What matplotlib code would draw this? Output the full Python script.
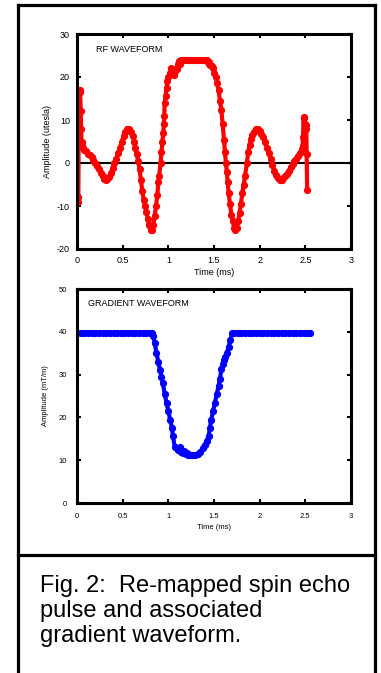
import matplotlib
matplotlib.use('Agg')
import matplotlib.pyplot as plt
from matplotlib.lines import Line2D

plt.rcParams['font.family'] = ['Liberation Sans', 'DejaVu Sans']
plt.rcParams['axes.unicode_minus'] = False

# RF waveform (ms, utesla)
rf_t = [0.010, 0.015, 0.020, 0.025, 0.030, 0.035, 0.040, 0.045, 0.050, 0.055,
        0.060, 0.070, 0.080, 0.100, 0.120, 0.140, 0.160, 0.180, 0.200, 0.220,
        0.240, 0.260, 0.280, 0.300, 0.315, 0.330, 0.350, 0.370, 0.390, 0.410,
        0.430, 0.450, 0.470, 0.490, 0.510, 0.530, 0.550, 0.570, 0.590, 0.610,
        0.625, 0.640, 0.655, 0.670, 0.685, 0.700, 0.715, 0.730, 0.745, 0.760,
        0.775, 0.790, 0.805, 0.820, 0.835, 0.850, 0.865, 0.880, 0.890, 0.900,
        0.915, 0.925, 0.935, 0.945, 0.950, 0.955, 0.960, 0.970, 0.980, 0.990,
        1.000, 1.015, 1.030, 1.045, 1.060, 1.075, 1.090, 1.100, 1.110, 1.120,
        1.130, 1.140, 1.160, 1.190, 1.220, 1.250, 1.280, 1.310, 1.340, 1.370,
        1.400, 1.420, 1.430, 1.440, 1.450, 1.460, 1.475, 1.490, 1.505, 1.520,
        1.535, 1.550, 1.565, 1.580, 1.595, 1.610, 1.620, 1.630, 1.640, 1.650,
        1.660, 1.675, 1.690, 1.705, 1.720, 1.735, 1.750, 1.765, 1.780, 1.795,
        1.810, 1.825, 1.840, 1.860, 1.875, 1.890, 1.905, 1.920, 1.940, 1.960,
        1.980, 2.000, 2.020, 2.040, 2.060, 2.080, 2.100, 2.120, 2.140, 2.160,
        2.180, 2.200, 2.220, 2.240, 2.260, 2.280, 2.300, 2.320, 2.340, 2.360,
        2.380, 2.400, 2.420, 2.440, 2.460, 2.470, 2.475, 2.480, 2.490, 2.500,
        2.505, 2.510, 2.515, 2.520]
rf_v = [-9.0, -8.0, 17.0, 17.0, 17.0, 16.5, 12.0, 8.0, 5.0, 4.5,
        4.0, 3.5, 3.0, 2.7, 2.2, 1.8, 1.3, 0.8, 0.1, -0.6,
        -1.4, -2.3, -3.0, -3.7, -3.9, -3.7, -3.2, -2.3, -1.2, 0.0,
        1.0, 2.3, 3.6, 5.0, 6.3, 7.3, 7.9, 7.8, 7.3, 6.2,
        5.0, 3.5, 2.0, 0.5, -1.5, -4.0, -6.5, -8.5, -10.0, -11.5,
        -13.0, -14.5, -15.5, -15.5, -14.5, -12.4, -10.0, -7.5, -4.5, -3.0,
        0.0, 2.5, 5.0, 7.0, 9.0, 11.0, 14.0, 15.5, 17.5, 19.0,
        20.0, 21.0, 22.0, 21.5, 20.5, 21.5, 22.0, 21.8, 23.0, 23.8,
        23.0, 24.0, 24.0, 24.0, 24.0, 24.0, 24.0, 24.0, 24.0, 24.0,
        24.0, 24.0, 23.5, 23.0, 23.5, 22.8, 22.5, 22.0, 21.0, 20.0,
        18.5, 17.0, 14.5, 12.4, 9.0, 5.4, 2.5, 0.0, -2.0, -4.5,
        -7.0, -9.5, -12.0, -13.5, -15.0, -15.5, -15.0, -13.5, -11.6, -9.5,
        -7.0, -5.0, -3.0, 0.0, 2.5, 4.3, 5.5, 6.5, 7.3, 7.9,
        7.8, 7.4, 6.8, 6.0, 4.8, 3.5, 2.3, 1.0, -0.5, -1.8,
        -2.8, -3.5, -3.9, -3.9, -3.5, -3.0, -2.5, -1.8, -1.0, -0.2,
        0.5, 1.0, 1.6, 2.3, 3.2, 4.0, 6.0, 10.8, 10.5, 9.0,
        8.0, 8.9, 2.0, -6.2]

# gradient waveform (ms, mT/m)
gr_t = [0.00, 0.04, 0.08, 0.12, 0.16, 0.20, 0.24, 0.28, 0.32, 0.36,
        0.40, 0.44, 0.48, 0.52, 0.56, 0.60, 0.64, 0.68, 0.72, 0.76,
        0.80, 0.82, 0.835, 0.85, 0.87, 0.89, 0.91, 0.925, 0.94, 0.96,
        0.98, 1.00, 1.02, 1.04, 1.05, 1.07, 1.09, 1.11, 1.125, 1.14,
        1.16, 1.175, 1.19, 1.205, 1.22, 1.24, 1.26, 1.29, 1.32, 1.35,
        1.38, 1.40, 1.42, 1.44, 1.455, 1.47, 1.49, 1.51, 1.53, 1.55,
        1.565, 1.58, 1.595, 1.61, 1.625, 1.64, 1.66, 1.68, 1.70, 1.72,
        1.76, 1.80, 1.84, 1.88, 1.92, 1.96, 2.00, 2.04, 2.08, 2.12,
        2.16, 2.20, 2.24, 2.28, 2.32, 2.36, 2.40, 2.44, 2.48, 2.52,
        2.55]
gr_v = [39.8, 39.8, 39.8, 39.8, 39.8, 39.8, 39.8, 39.8, 39.8, 39.8,
        39.8, 39.8, 39.8, 39.8, 39.8, 39.8, 39.8, 39.8, 39.8, 39.8,
        39.8, 39.8, 39.0, 37.5, 35.0, 33.0, 31.0, 29.5, 28.0, 25.5,
        23.4, 21.5, 19.5, 17.5, 15.6, 13.2, 12.8, 12.5, 13.0, 12.0,
        11.7, 12.2, 11.4, 11.6, 11.3, 11.3, 11.3, 11.3, 11.5, 12.0,
        12.8, 13.6, 14.5, 15.6, 17.5, 19.5, 21.5, 23.4, 25.5, 27.3,
        29.0, 31.2, 32.5, 33.5, 34.2, 35.0, 36.5, 38.2, 39.7, 39.8,
        39.8, 39.8, 39.8, 39.8, 39.8, 39.8, 39.8, 39.8, 39.8, 39.8,
        39.8, 39.8, 39.8, 39.8, 39.8, 39.8, 39.8, 39.8, 39.8, 39.8,
        39.8]

fig = plt.figure(figsize=(3.81, 6.73), dpi=100)
W, H = 381.0, 673.0


def fx(px):
    return px / W


def fy(py):
    return 1 - py / H


def style_axes(ax, fs, pad):
    for s in ax.spines.values():
        s.set_linewidth(2.2)
    ax.tick_params(direction='in', length=3, width=1.5, top=True, right=True,
                   labelsize=fs, pad=pad)
    ax.set_xlim(0, 3)
    ax.set_xticks([0, 0.5, 1, 1.5, 2, 2.5, 3])
    ax.set_xticklabels(['0', '0.5', '1', '1.5', '2', '2.5', '3'])


# top panel: RF waveform
ax1 = fig.add_axes([fx(77), fy(249), fx(351) - fx(77), fy(34) - fy(249)])
ax1.axhline(0, color='black', lw=1.5, zorder=1)
ax1.plot(rf_t, rf_v, color='red', lw=3, marker='o', markersize=4.2, zorder=2)
ax1.set_ylim(-20, 30)
ax1.set_yticks([-20, -10, 0, 10, 20, 30])
style_axes(ax1, 6.5, 5)
ax1.set_xlabel('Time (ms)', fontsize=6.5, labelpad=2)
ax1.set_ylabel('Amplitude (utesla)', fontsize=6.5, labelpad=4)
ax1.text(0.07, 0.93, 'RF WAVEFORM', transform=ax1.transAxes, fontsize=6.5,
         va='center', ha='left')

# bottom panel: gradient waveform
ax2 = fig.add_axes([fx(77), fy(503), fx(351) - fx(77), fy(289) - fy(503)])
ax2.plot(gr_t, gr_v, color='blue', lw=3, marker='o', markersize=4.2)
ax2.set_ylim(0, 50)
ax2.set_yticks([0, 10, 20, 30, 40, 50])
style_axes(ax2, 5.5, 7)
ax2.set_xlabel('Time (ms)', fontsize=5.5, labelpad=3)
ax2.set_ylabel('Amplitude (mT/m)', fontsize=5.5, labelpad=7)
ax2.text(0.04, 0.93, 'GRADIENT WAVEFORM', transform=ax2.transAxes, fontsize=6.5,
         va='center', ha='left')

# outer frame and caption box
for xs, ys in [([18, 18], [5, 673]), ([375, 375], [5, 673]),
               ([18, 375], [5, 5]), ([18, 375], [555, 555])]:
    fig.add_artist(Line2D([fx(x) for x in xs], [fy(y) for y in ys],
                          color='black', lw=2.3, transform=fig.transFigure))

fig.text(fx(40), fy(642), 'Fig. 2:  Re-mapped spin echo\npulse and associated\ngradient waveform.',
         fontsize=17, ha='left', va='baseline', linespacing=1.17)

fig.savefig('out.png', dpi=100)
